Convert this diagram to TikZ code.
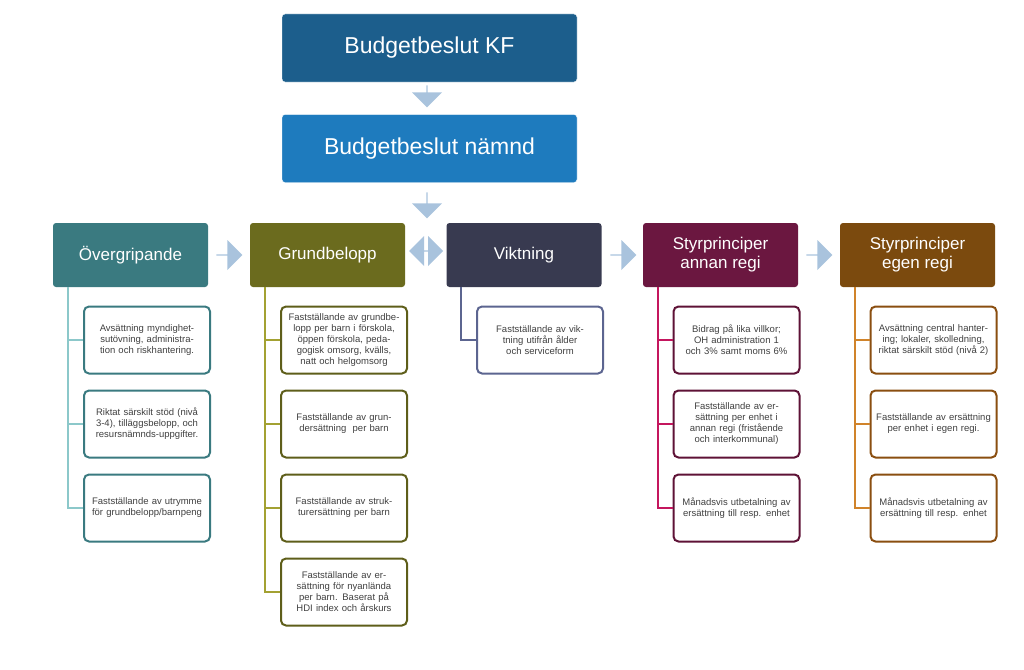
\documentclass[tikz,border=0pt]{standalone}
\usepackage{fontspec}
\setmainfont{Liberation Sans}
\usetikzlibrary{shapes.arrows}
\definecolor{kf}{HTML}{1C5E8C}
\definecolor{nm}{HTML}{1E7BBE}
\definecolor{arr}{HTML}{A9C3DD}
\definecolor{cA}{HTML}{3A7A80}\definecolor{lA}{HTML}{8CC8CA}
\definecolor{cB}{HTML}{6B6B1E}\definecolor{lB}{HTML}{A3A132}\definecolor{bB}{HTML}{5E5E1A}
\definecolor{cC}{HTML}{383A50}\definecolor{lC}{HTML}{5C6590}
\definecolor{cD}{HTML}{6B1740}\definecolor{lD}{HTML}{C4165E}\definecolor{bD}{HTML}{5E1236}
\definecolor{cE}{HTML}{7B4A0E}\definecolor{lE}{HTML}{D0832A}\definecolor{bE}{HTML}{8A4E10}
\definecolor{txt}{HTML}{404040}
\begin{document}
\begin{tikzpicture}[x=1pt,y=-1pt,
 topbox/.style={rounded corners=3pt,minimum width=295pt,minimum height=68pt,text=white,font=\fontsize{23}{26}\selectfont,draw=white},
 head/.style={fill=#1,rounded corners=3pt,minimum width=155pt,minimum height=64pt,text=white,font=\fontsize{17}{19}\selectfont,align=center},
 child/.style={draw=#1,line width=2pt,fill=white,rounded corners=5pt,minimum width=126pt,minimum height=67pt,text width=120pt,align=center,font=\fontsize{9.5}{11}\selectfont,text=txt,inner sep=1pt},
 conn/.style={draw=#1,line width=2pt},
 rarr/.style={single arrow,fill=arr,minimum height=26pt,minimum width=30pt,single arrow head extend=4pt,inner sep=0pt},
 darr/.style={double arrow,fill=arr,minimum height=34pt,minimum width=30pt,double arrow head extend=4pt,inner sep=0pt}]
\useasboundingbox (0,0) rectangle (1024,669);
\node[topbox,fill=kf] (kf) at (429.5,48) {Budgetbeslut KF};
\node[topbox,fill=nm] (nm) at (429.5,148.5) {Budgetbeslut nämnd};
\node[rarr,rotate=-90,minimum height=22pt] (a1) at (427,96) {};
\node[rarr,rotate=-90,minimum height=26pt] (a2) at (427,205) {};
\node[head=cA] (hA) at (130.5,255) {Övergripande};
\node[head=cB] (hB) at (327.5,255) {Grundbelopp};
\node[head=cC] (hC) at (524,255) {Viktning};
\node[head=cD] (hD) at (720.5,255) {Styrprinciper\\annan regi};
\node[head=cE] (hE) at (917.5,255) {Styrprinciper\\egen regi};
\node[rarr] (r1) at (229,255) {};
\node[darr] (r2) at (426,251) {};
\node[rarr] (r3) at (623,255) {};
\node[rarr] (r4) at (819,255) {};
% column A
\node[child=cA] (a1c) at (147,340) {Avsättning myndighetsutövning, administration och riskhantering.};
\node[child=cA] (a2c) at (147,424) {Riktat särskilt stöd (nivå 3-4), tilläggsbelopp, och resursnämnds-uppgifter.};
\node[child=cA] (a3c) at (147,508) {Fastställande av utrymme för grundbelopp/barnpeng};
\draw[conn=lA] (hA.south -| 68,0) -- (68,508) -- (a3c.west);
\draw[conn=lA] (68,340) -- (a1c.west);
\draw[conn=lA] (68,424) -- (a2c.west);
% column B
\node[child=bB] (b1) at (344,340) {Fastställande av grundbelopp per barn i förskola, öppen förskola, pedagogisk omsorg, kvälls, natt och helgomsorg};
\node[child=bB] (b2) at (344,424) {Fastställande av grundersättning\ \ per barn};
\node[child=bB] (b3) at (344,508) {Fastställande av strukturersättning per barn};
\node[child=bB] (b4) at (344,592) {Fastställande av ersättning för nyanlända per barn. Baserat på HDI index och årskurs};
\draw[conn=lB] (hB.south -| 265,0) -- (265,592) -- (b4.west);
\foreach \n/\y in {b1/340,b2/424,b3/508}{\draw[conn=lB] (265,\y) -- (\n.west);}
% column C
\node[child=lC] (c1) at (540,340) {Fastställande av viktning utifrån ålder och serviceform};
\draw[conn=lC] (hC.south -| 461,0) -- (461,340) -- (c1.west);
% column D
\node[child=bD] (d1) at (736.5,340) {Bidrag på lika villkor; OH administration 1 och 3\% samt moms 6\%};
\node[child=bD] (d2) at (736.5,424) {Fastställande av ersättning per enhet i annan regi (fristående och interkommunal)};
\node[child=bD] (d3) at (736.5,508) {Månadsvis utbetalning av ersättning till resp. enhet};
\draw[conn=lD] (hD.south -| 658,0) -- (658,508) -- (d3.west);
\foreach \n/\y in {d1/340,d2/424}{\draw[conn=lD] (658,\y) -- (\n.west);}
% column E
\node[child=bE] (e1) at (933.5,340) {Avsättning central hantering; lokaler, skolledning, riktat särskilt stöd (nivå 2)};
\node[child=bE] (e2) at (933.5,424) {Fastställande av ersättning per enhet i egen regi.};
\node[child=bE] (e3) at (933.5,508) {Månadsvis utbetalning av ersättning till resp. enhet};
\draw[conn=lE] (hE.south -| 855,0) -- (855,508) -- (e3.west);
\foreach \n/\y in {e1/340,e2/424}{\draw[conn=lE] (855,\y) -- (\n.west);}
\end{tikzpicture}
\end{document}
